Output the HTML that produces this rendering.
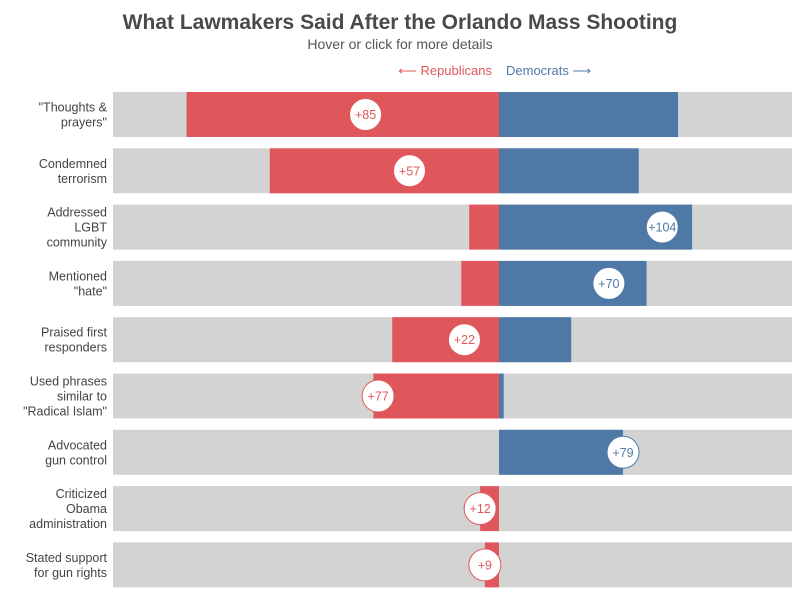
<!DOCTYPE html>
<html><head><meta charset="utf-8"><style>
body{margin:0;background:#fff;font-family:"Liberation Sans",sans-serif;}
svg{display:block}
</style></head><body>
<svg id="chart" width="800" height="600">
<text x="400" y="29" text-anchor="middle" font-size="21" font-weight="bold" fill="#4a4a4a">What Lawmakers Said After the Orlando Mass Shooting</text>
<text x="400" y="49" text-anchor="middle" font-size="14" fill="#555">Hover or click for more details</text>
<text x="492" y="75" text-anchor="end" font-size="13" fill="#e0575b">⟵ Republicans</text>
<text x="506" y="75" text-anchor="start" font-size="13" fill="#4e79a7">Democrats ⟶</text>
<g id="rows"></g>
</svg>
<script>
const categories=[["\"Thoughts &","prayers\""],["Condemned","terrorism"],["Addressed","LGBT","community"],["Mentioned","\"hate\""],["Praised first","responders"],["Used phrases","similar to","\"Radical Islam\""],["Advocated","gun control"],["Criticized","Obama","administration"],["Stated support","for gun rights"]];
const republicans=[199,146,19,24,68,80,0,12,9];
const democrats=[114,89,123,94,46,3,79,0,0];
const NS="http://www.w3.org/2000/svg";
const cx=499,left=113,right=792,scale=1.57,top0=92,step=56.3,bh=45;
const x=v=>v*scale;
const g=document.getElementById('rows');
function mk(t,a){const e=document.createElementNS(NS,t);for(const k in a)e.setAttribute(k,a[k]);g.appendChild(e);return e;}
categories.forEach((c,i)=>{
  const y=top0+i*step;
  const bg=mk('rect',{x:left,y:y,width:right-left,height:bh,fill:'#d3d3d3'});
  
  
  const r=republicans[i],d=democrats[i];
  const rb=mk('rect',{x:cx-x(r),y:y,width:x(r),height:bh,fill:'#e0575b'});
  
  
  const db=mk('rect',{x:cx,y:y,width:x(d),height:bh,fill:'#4e79a7'});
  
  
  const n=c.length,lh=15,ty=y+bh/2-(n-1)*lh/2+4.5;
  c.forEach((s,j)=>{const t=mk('text',{x:107,y:ty+j*lh,'text-anchor':'end','font-size':12.5,fill:'#444'});t.textContent=s;
    
    });
  const diff=r-d,col=diff>0?'#e0575b':'#4e79a7',ccx=cx-x(diff);
  const circ=mk('circle',{cx:ccx,cy:y+bh/2,r:16,fill:'#fff',stroke:col,'stroke-width':1});
  
  
  const lt=mk('text',{x:ccx,y:y+bh/2+4.5,'text-anchor':'middle','font-size':12.5,fill:col});
  lt.textContent='+'+Math.abs(diff);
  
  
});
</script>
</body></html>
